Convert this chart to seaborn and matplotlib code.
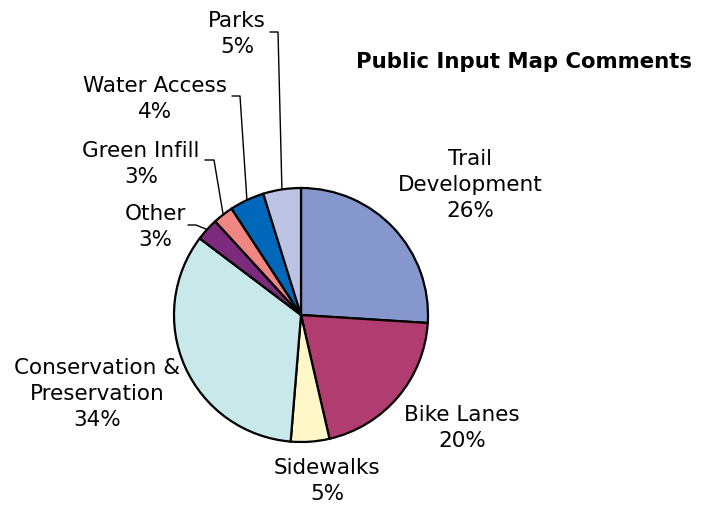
import matplotlib
matplotlib.use("Agg")
import matplotlib.pyplot as plt
import seaborn as sns
import numpy as np

sns.set_theme(style="white")
plt.rcParams['font.family'] = ['DejaVu Sans']
plt.rcParams['text.color'] = 'black'

# ---- data ----
categories = ["Trail\nDevelopment", "Bike Lanes", "Sidewalks", "Conservation &\nPreservation",
              "Other", "Green Infill", "Water Access", "Parks"]
values = [26.0, 20.4, 4.9, 34.0, 2.9, 2.6, 4.4, 4.8]
colors = ["#8597CC", "#B13C6F", "#FFF7C8", "#C8E8EA", "#7C2A7C", "#F08683", "#0068BA", "#BCC3E4"]
title = "Public Input Map Comments"

# ---- layout (pixels, origin top-left) ----
W, H = 712, 506
CX, CY, R = 301, 316, 127
label_pos = [(470, 185), (462, 428), (327, 481), (97, 394),
             (155, 227), (141, 164), (155, 99), (237, 34)]
# leader elbows for small slices: (start_x, elbow_x, y)
leaders = {4: (188, 196, 226), 5: (205, 214, 161), 6: (232, 240, 97), 7: (270, 278, 33)}

fig = plt.figure(figsize=(W / 100, H / 100), dpi=100)
ax = fig.add_axes([(CX - R) / W, (H - CY - R) / H, 2 * R / W, 2 * R / H])

wedges, _ = ax.pie(values, colors=colors, startangle=90, counterclock=False, radius=1,
                   wedgeprops=dict(edgecolor="black", linewidth=1.6))
ax.set_xlim(-1, 1)
ax.set_ylim(-1, 1)
ax.set_aspect("auto")
ax.axis("off")
for w in wedges:
    w.set_clip_on(False)

def p2d(x, y):
    return (x - CX) / R, (CY - y) / R

total = sum(values)
for i, (cat, v) in enumerate(zip(categories, values)):
    lx, ly = p2d(*label_pos[i])
    ax.text(lx, ly, f"{cat}\n{round(v / total * 100)}%", ha="center", va="center",
            fontsize=15.5, linespacing=1.4, color="black", clip_on=False)
    if i in leaders:
        w = wedges[i]
        mid = np.deg2rad((w.theta1 + w.theta2) / 2)
        ex, ey = np.cos(mid), np.sin(mid)
        sx, bx, yy = leaders[i]
        x0, y0 = p2d(sx, yy)
        x1, _ = p2d(bx, yy)
        ax.plot([x0, x1, ex], [y0, y0, ey], color="black", lw=1.0, clip_on=False)

fig.text(692 / W, 1 - 62 / H, title, ha="right", va="center", fontsize=15.3,
         fontweight="bold", color="black")

fig.savefig("out.png", dpi=100)
